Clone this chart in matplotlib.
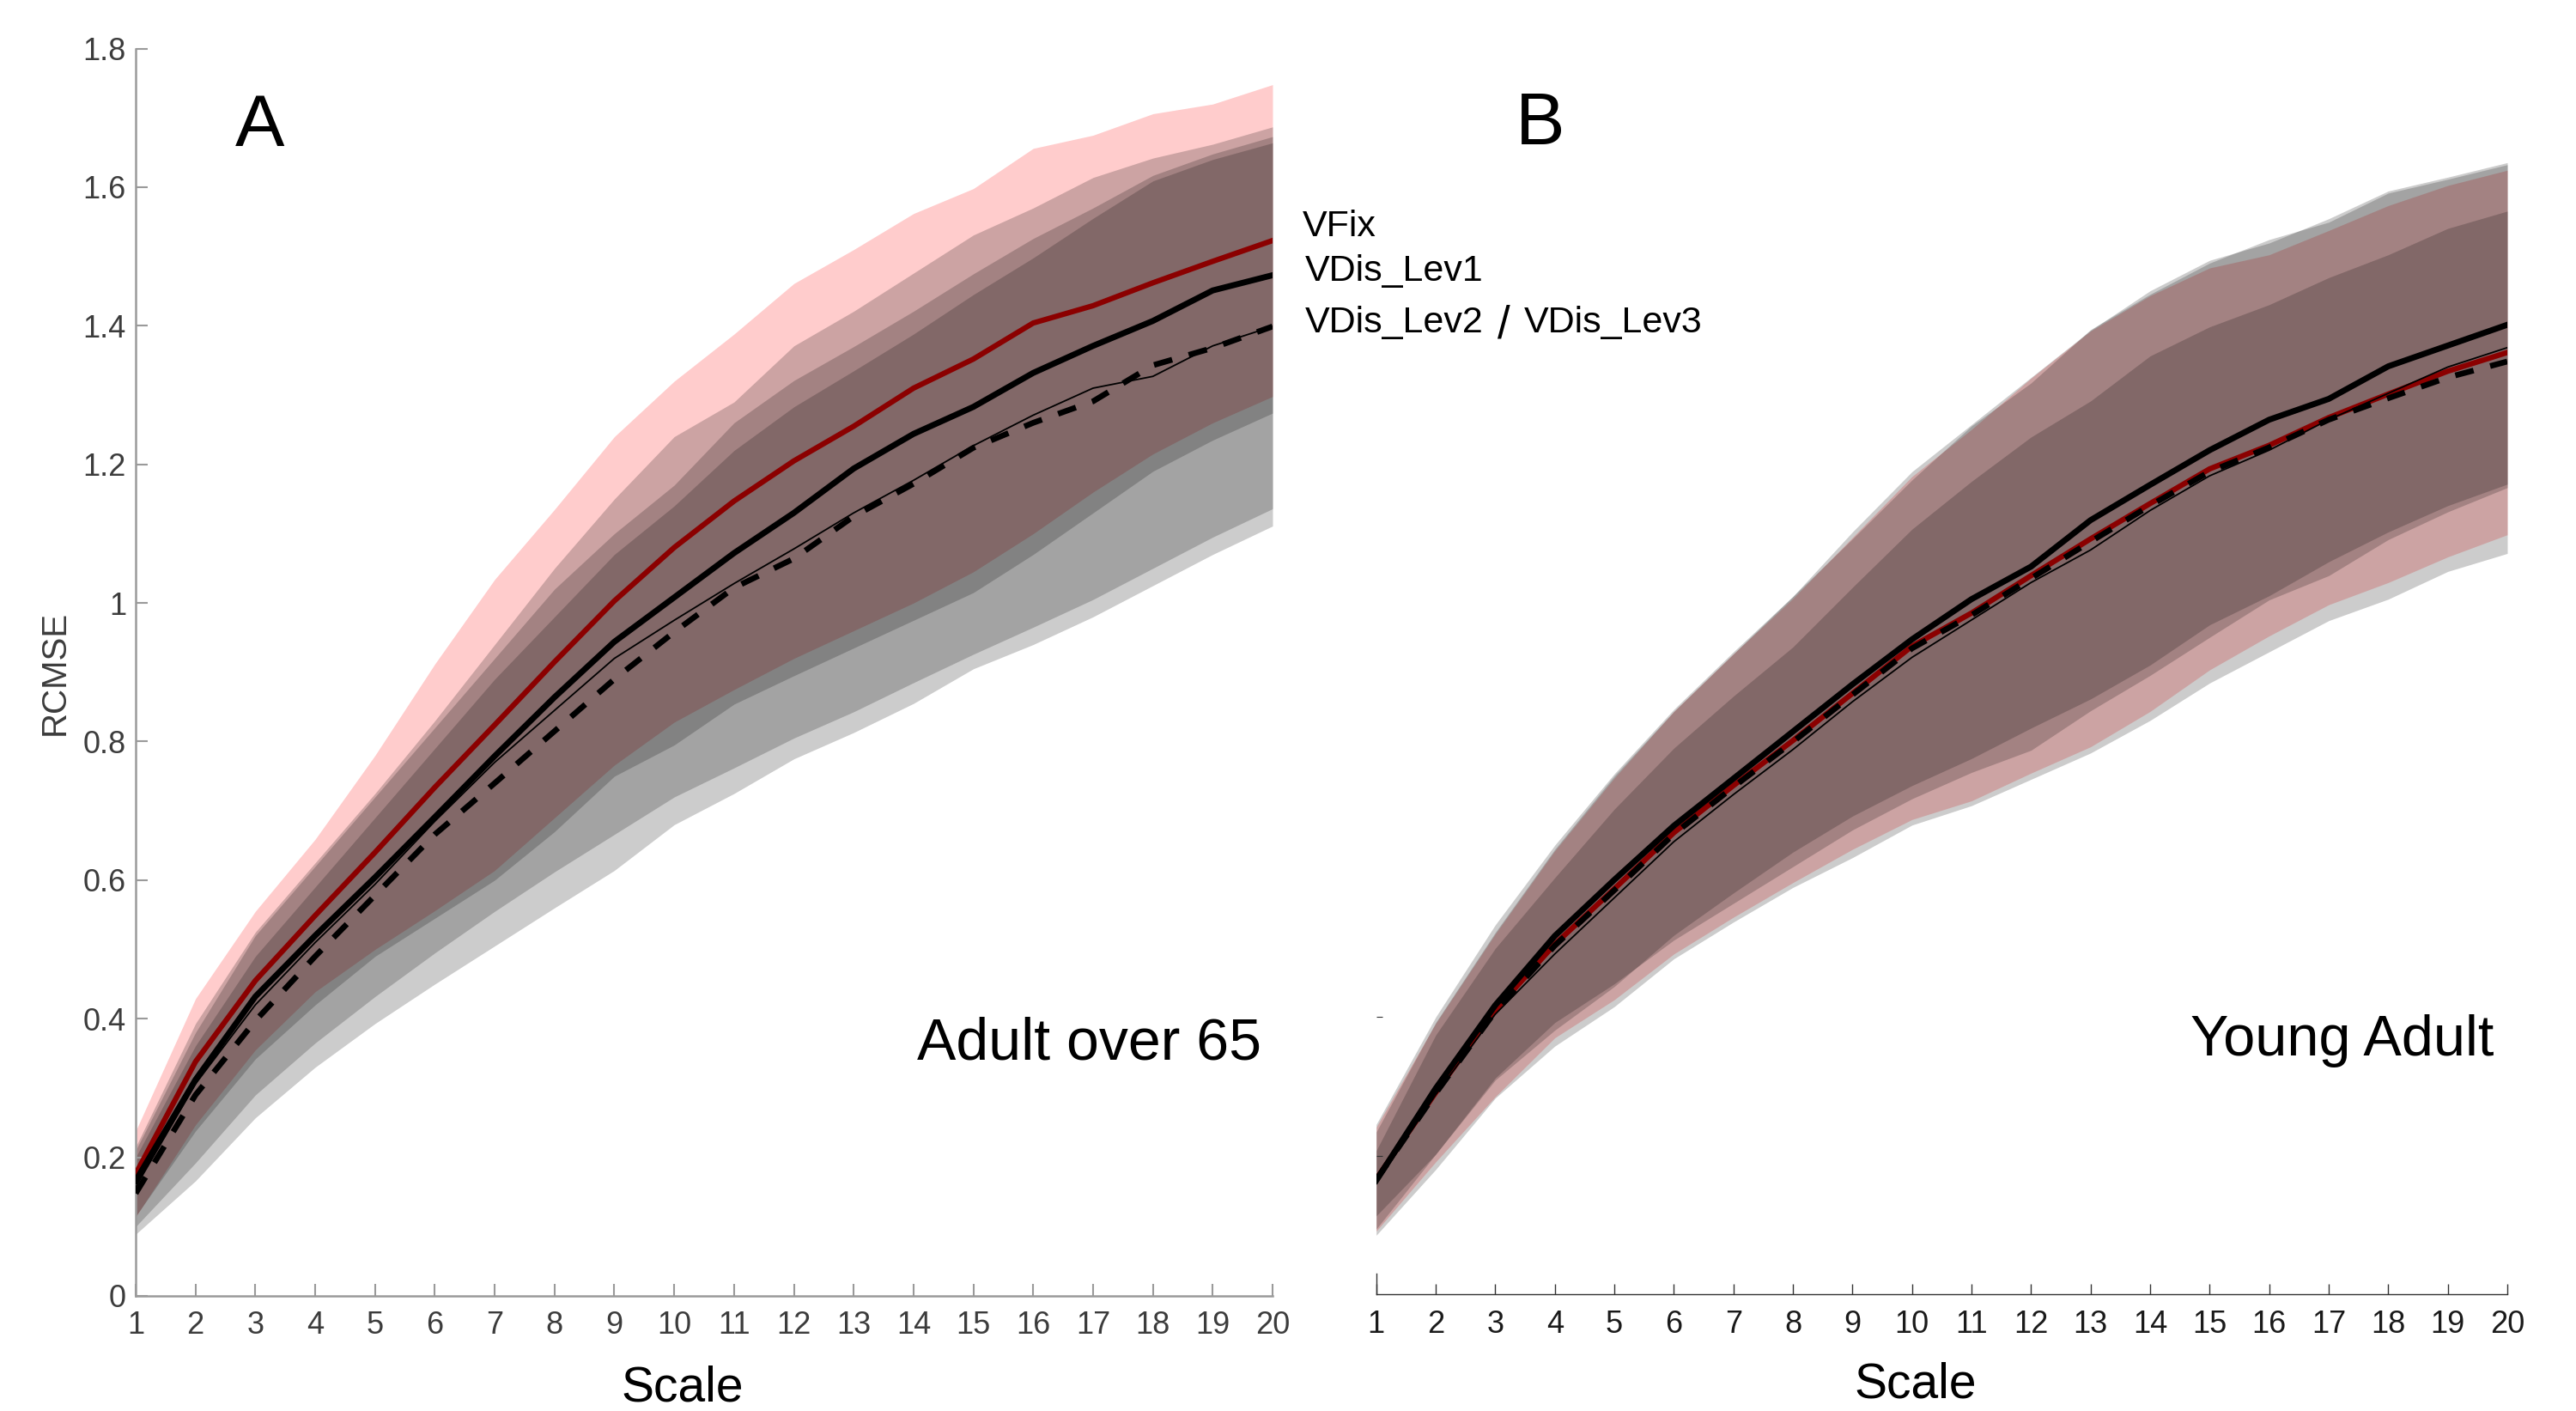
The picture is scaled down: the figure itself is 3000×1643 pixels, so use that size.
import numpy as np
import matplotlib.pyplot as plt

plt.rcParams['font.family'] = ['Liberation Sans', 'DejaVu Sans']

scales = np.arange(1, 21)
x_ticklabels = [str(s) for s in scales]
y_ticks = np.arange(0, 1.81, 0.2)
y_ticklabels = ["0", "0.2", "0.4", "0.6", "0.8", "1", "1.2", "1.4", "1.6", "1.8"]

# Panel A - adults over 65: mean curve and shaded band (lower / upper edge)
old_vfix = [0.176, 0.338, 0.455, 0.549, 0.640, 0.734, 0.824, 0.915, 1.003, 1.080,
            1.147, 1.205, 1.255, 1.310, 1.352, 1.404, 1.429, 1.462, 1.493, 1.523]
old_vfix_lo = [0.114, 0.247, 0.355, 0.439, 0.500, 0.556, 0.614, 0.690, 0.766, 0.828,
               0.875, 0.920, 0.960, 1.000, 1.045, 1.100, 1.160, 1.215, 1.260, 1.298]
old_vfix_hi = [0.238, 0.429, 0.555, 0.659, 0.780, 0.912, 1.034, 1.135, 1.240, 1.320,
               1.388, 1.461, 1.510, 1.562, 1.598, 1.656, 1.675, 1.706, 1.720, 1.748]

old_lev1 = [0.166, 0.312, 0.432, 0.520, 0.604, 0.691, 0.779, 0.864, 0.944, 1.008,
            1.072, 1.130, 1.194, 1.244, 1.283, 1.332, 1.371, 1.407, 1.451, 1.473]
old_lev1_lo = [0.115, 0.238, 0.342, 0.420, 0.490, 0.545, 0.600, 0.670, 0.750, 0.795,
               0.854, 0.895, 0.935, 0.975, 1.015, 1.070, 1.130, 1.190, 1.235, 1.274]
old_lev1_hi = [0.215, 0.393, 0.525, 0.625, 0.725, 0.830, 0.940, 1.050, 1.150, 1.240,
               1.290, 1.371, 1.421, 1.476, 1.531, 1.570, 1.614, 1.642, 1.662, 1.687]

old_lev2 = [0.157, 0.306, 0.420, 0.510, 0.594, 0.685, 0.770, 0.845, 0.920, 0.975,
            1.028, 1.078, 1.130, 1.177, 1.227, 1.271, 1.310, 1.327, 1.371, 1.399]
old_lev2_lo = [0.100, 0.192, 0.290, 0.365, 0.432, 0.495, 0.555, 0.612, 0.666, 0.720,
               0.762, 0.805, 0.843, 0.885, 0.926, 0.965, 1.005, 1.050, 1.095, 1.136]
old_lev2_hi = [0.210, 0.380, 0.520, 0.620, 0.720, 0.820, 0.920, 1.020, 1.100, 1.170,
               1.260, 1.321, 1.370, 1.421, 1.475, 1.526, 1.570, 1.617, 1.648, 1.673]

old_lev3 = [0.148, 0.290, 0.397, 0.490, 0.578, 0.666, 0.740, 0.815, 0.890, 0.958,
            1.022, 1.064, 1.125, 1.172, 1.224, 1.260, 1.291, 1.343, 1.368, 1.399]
old_lev3_lo = [0.089, 0.166, 0.257, 0.330, 0.393, 0.450, 0.505, 0.560, 0.614, 0.680,
               0.725, 0.775, 0.813, 0.855, 0.905, 0.940, 0.980, 1.025, 1.070, 1.111]
old_lev3_hi = [0.200, 0.361, 0.490, 0.590, 0.690, 0.790, 0.890, 0.980, 1.070, 1.140,
               1.220, 1.283, 1.335, 1.388, 1.445, 1.498, 1.555, 1.609, 1.640, 1.664]

# Panel B - young adults
young_vfix = [0.166, 0.291, 0.410, 0.505, 0.585, 0.666, 0.734, 0.799, 0.867, 0.935,
              0.983, 1.037, 1.090, 1.141, 1.191, 1.225, 1.265, 1.299, 1.332, 1.359]
young_vfix_lo = [0.091, 0.191, 0.285, 0.370, 0.425, 0.491, 0.544, 0.594, 0.642, 0.685,
                 0.712, 0.752, 0.790, 0.841, 0.901, 0.950, 0.995, 1.027, 1.064, 1.096]
young_vfix_hi = [0.241, 0.391, 0.520, 0.640, 0.745, 0.841, 0.924, 1.004, 1.092, 1.180,
                 1.248, 1.322, 1.390, 1.441, 1.481, 1.500, 1.535, 1.571, 1.600, 1.622]

young_lev1 = [0.164, 0.297, 0.417, 0.517, 0.598, 0.676, 0.744, 0.812, 0.880, 0.945,
              1.003, 1.050, 1.117, 1.168, 1.218, 1.262, 1.292, 1.339, 1.369, 1.399]
young_lev1_lo = [0.094, 0.202, 0.312, 0.392, 0.448, 0.511, 0.564, 0.617, 0.670, 0.715,
                 0.753, 0.785, 0.842, 0.893, 0.948, 1.002, 1.037, 1.089, 1.129, 1.164]
young_lev1_hi = [0.234, 0.392, 0.522, 0.642, 0.748, 0.841, 0.924, 1.007, 1.090, 1.175,
                 1.253, 1.315, 1.392, 1.443, 1.488, 1.522, 1.547, 1.589, 1.609, 1.630]

young_lev2 = [0.160, 0.288, 0.404, 0.491, 0.572, 0.653, 0.721, 0.786, 0.855, 0.919,
              0.973, 1.027, 1.074, 1.131, 1.181, 1.218, 1.262, 1.300, 1.338, 1.366]
young_lev2_lo = [0.113, 0.202, 0.309, 0.381, 0.444, 0.518, 0.579, 0.638, 0.690, 0.734,
                 0.773, 0.817, 0.859, 0.908, 0.966, 1.008, 1.057, 1.100, 1.138, 1.169]
young_lev2_hi = [0.207, 0.374, 0.499, 0.601, 0.700, 0.788, 0.863, 0.934, 1.020, 1.104,
                 1.173, 1.237, 1.289, 1.354, 1.396, 1.428, 1.467, 1.500, 1.538, 1.563]

young_lev3 = [0.165, 0.290, 0.408, 0.503, 0.583, 0.664, 0.732, 0.797, 0.865, 0.932,
              0.980, 1.033, 1.086, 1.138, 1.187, 1.222, 1.262, 1.293, 1.323, 1.346]
young_lev3_lo = [0.085, 0.180, 0.283, 0.358, 0.415, 0.484, 0.537, 0.587, 0.630, 0.677,
                 0.705, 0.743, 0.781, 0.828, 0.882, 0.927, 0.972, 1.003, 1.043, 1.069]
young_lev3_hi = [0.245, 0.400, 0.533, 0.648, 0.751, 0.844, 0.927, 1.007, 1.100, 1.187,
                 1.255, 1.323, 1.391, 1.448, 1.492, 1.517, 1.552, 1.592, 1.612, 1.633]

W, H = 3000, 1643


def fx(px):
    return px / W


def fy(py):
    return 1 - py / H


def draw_panel(ax, series):
    # series: list of (mean, lower edge, upper edge, band colour)
    for mean, lo, hi, band in series:
        ax.fill_between(scales, lo, hi, color=band, alpha=0.2,
                        linewidth=0, zorder=1)
    vfix, lev1, lev2, lev3 = [s[0] for s in series]
    ax.plot(scales, vfix, color="#8b0000", lw=4.5, zorder=3)
    ax.plot(scales, lev1, color="black", lw=5, zorder=3)
    ax.plot(scales, lev2, color="black", lw=1.3, zorder=3)
    ax.plot(scales, lev3, color="black", lw=4.8, dashes=(3.3, 3.0), zorder=4)
    ax.set_xlim(1, 20)
    ax.set_ylim(0, 1.8)
    ax.set_xticks(scales, x_ticklabels)
    for side in ["top", "right"]:
        ax.spines[side].set_visible(False)


fig = plt.figure(figsize=(30, 16.43), dpi=100)
ax_a = fig.add_axes([fx(158), fy(1509), fx(1482) - fx(158), fy(56.6) - fy(1509)])
ax_b = fig.add_axes([fx(1602.7), fy(1507), fx(2920) - fx(1602.7), fy(54.6) - fy(1507)])

draw_panel(ax_a, [(old_vfix, old_vfix_lo, old_vfix_hi, "red"),
                  (old_lev1, old_lev1_lo, old_lev1_hi, "black"),
                  (old_lev2, old_lev2_lo, old_lev2_hi, "black"),
                  (old_lev3, old_lev3_lo, old_lev3_hi, "black")])
draw_panel(ax_b, [(young_vfix, young_vfix_lo, young_vfix_hi, "red"),
                  (young_lev1, young_lev1_lo, young_lev1_hi, "black"),
                  (young_lev2, young_lev2_lo, young_lev2_hi, "black"),
                  (young_lev3, young_lev3_lo, young_lev3_hi, "black")])

# panel A axes styling (grey, MATLAB-like inward ticks)
grey = "#9a9a9a"
ax_a.set_yticks(y_ticks, y_ticklabels)
for side in ["left", "bottom"]:
    ax_a.spines[side].set_color(grey)
    ax_a.spines[side].set_linewidth(1.8)
ax_a.tick_params(axis="both", direction="in", length=10, width=1.5, color=grey,
                 labelsize=26, labelcolor="#3c3c3c")
ax_a.tick_params(axis="x", pad=12)
ax_a.tick_params(axis="y", pad=8)

# panel B: y axis erased, only a stub left
ax_b.spines["bottom"].set_color("#333333")
ax_b.spines["bottom"].set_linewidth(1.0)
ax_b.spines["left"].set_color("#333333")
ax_b.spines["left"].set_linewidth(1.0)
ax_b.spines["left"].set_bounds(0, 0.03)
ax_b.set_yticks([0.2, 0.4], ["", ""])
ax_b.tick_params(axis="y", direction="in", length=5, width=0.8, color="#333333")
ax_b.tick_params(axis="x", direction="in", length=9, width=1.0, color="#333333",
                 labelsize=26, labelcolor="#1a1a1a", pad=13)

# labels
fig.text(fx(64), fy(783), "RCMSE", rotation=90, ha="center", va="center",
         fontsize=29, color="#3c3c3c")
fig.text(fx(795), fy(1632), "Scale", ha="center", va="baseline", fontsize=41)
fig.text(fx(2231), fy(1628), "Scale", ha="center", va="baseline", fontsize=41)

fig.text(fx(274), fy(170), "A", ha="left", va="baseline", fontsize=62)
fig.text(fx(1765), fy(168), "B", ha="left", va="baseline", fontsize=62)

fig.text(fx(1469), fy(1234), "Adult over 65", ha="right", va="baseline", fontsize=49)
fig.text(fx(2904), fy(1229), "Young Adult", ha="right", va="baseline", fontsize=48)

# legend written as plain text next to the line ends
fig.text(fx(1517), fy(275), "VFix", ha="left", va="baseline", fontsize=31)
fig.text(fx(1520), fy(327), "VDis_Lev1", ha="left", va="baseline", fontsize=31)
fig.text(fx(1520), fy(387), "VDis_Lev2", ha="left", va="baseline", fontsize=31)
fig.text(fx(1744), fy(394), "/", ha="left", va="baseline", fontsize=38)
fig.text(fx(1775), fy(387), "VDis_Lev3", ha="left", va="baseline", fontsize=31)

fig.savefig("out.png", dpi=100, facecolor="white")
